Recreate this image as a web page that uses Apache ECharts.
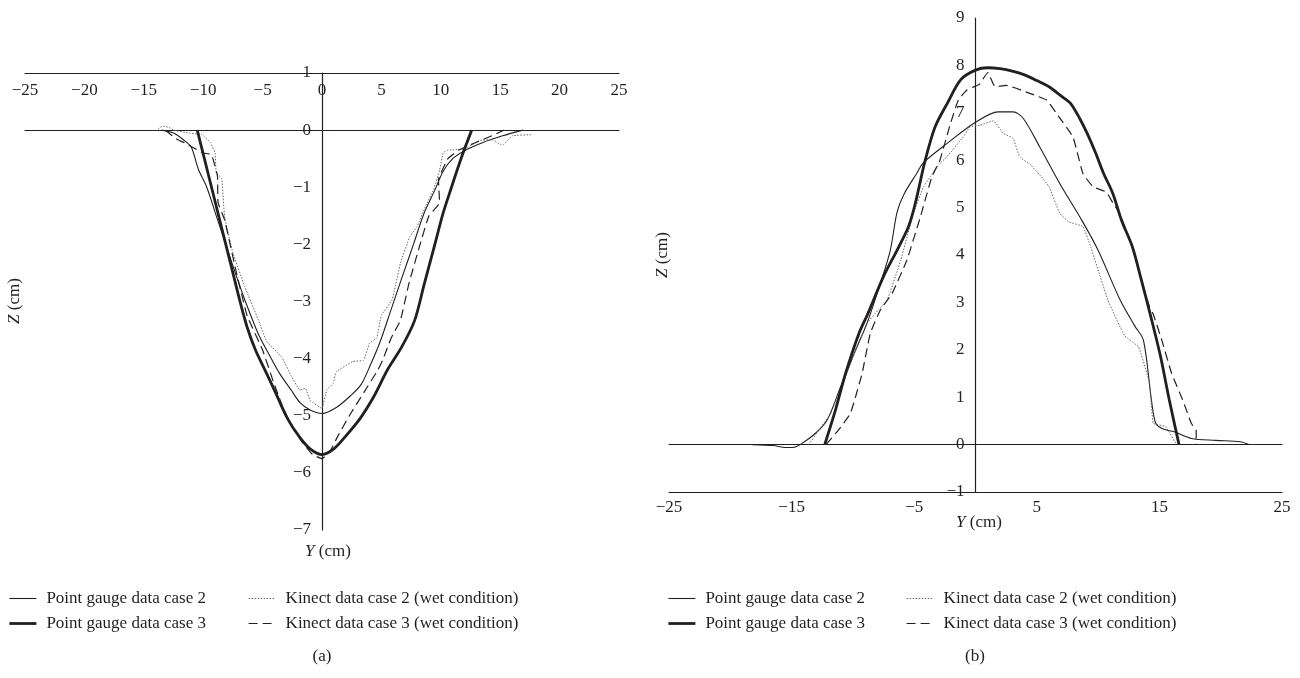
<!DOCTYPE html>
<html>
<head>
<meta charset="utf-8">
<script src="https://cdn.jsdelivr.net/npm/echarts@6/dist/echarts.min.js"></script>
<style>
  html, body { margin: 0; background: #fff; }
  #chart { width: 1300px; height: 678px; }
</style>
</head>
<body>
<div id="chart"></div>
<script>
// 横轴/纵轴刻度
const aHorizTicks = [-25, -20, -15, -10, -5, 0, 5, 10, 15, 20, 25];
const aVertTicks = [1, 0, -1, -2, -3, -4, -5, -6, -7];
const bHorizTicks = [-25, -15, -5, 5, 15, 25];
const bVertTicks = [-1, 0, 1, 2, 3, 4, 5, 6, 7, 8, 9];

const seriesNames = [
  "Point gauge data case 2",
  "Point gauge data case 3",
  "Kinect data case 2 (wet condition)",
  "Kinect data case 3 (wet condition)"
];

// (a) [Y, Z]
const aGauge2 = [[-13.5, 0], [-12.5, -0.05], [-11.6, -0.18], [-11.0, -0.3], [-10.4, -0.69], [-9.7, -1.0],
  [-8.9, -1.5], [-8.1, -2.0], [-7.3, -2.5], [-6.5, -2.97], [-5.4, -3.55], [-4.4, -3.95], [-3.6, -4.25],
  [-2.6, -4.55], [-1.85, -4.77], [-1.0, -4.9], [0, -4.96], [1.24, -4.85], [2.4, -4.65], [3.3, -4.45],
  [4.1, -4.1], [4.9, -3.7], [5.8, -3.15], [6.7, -2.6], [7.7, -2.0], [8.6, -1.45], [9.5, -1.05],
  [10.2, -0.72], [11.0, -0.5], [12.0, -0.36], [13.5, -0.22], [15.2, -0.1], [16.9, 0]];
const aGauge3 = [[-10.5, 0], [-9.9, -0.5], [-9.3, -1.0], [-8.7, -1.5], [-8.1, -2.0], [-7.5, -2.5],
  [-6.9, -3.0], [-6.3, -3.45], [-5.6, -3.85], [-4.8, -4.2], [-3.9, -4.6], [-2.9, -5.05], [-1.9, -5.37],
  [-1.0, -5.58], [0, -5.68], [1.0, -5.58], [1.9, -5.38], [3.2, -5.05], [4.4, -4.65], [5.5, -4.2],
  [6.7, -3.8], [7.8, -3.33], [8.6, -2.7], [9.5, -2.0], [10.2, -1.45], [10.9, -1.0], [11.7, -0.5], [12.6, 0]];
const aKinect2 = [[-13.8, 0.02], [-13.4, 0.07], [-12.9, 0.05], [-12.5, 0], [-11.2, -0.05], [-10.1, -0.08],
  [-9.4, -0.22], [-9.0, -0.4], [-8.9, -0.75], [-8.45, -0.84], [-8.2, -1.51], [-7.5, -2.15], [-6.5, -2.74],
  [-5.4, -3.3], [-4.65, -3.7], [-3.4, -3.97], [-2.6, -4.3], [-1.85, -4.55], [-1.4, -4.52], [-1.0, -4.73],
  [-0.2, -4.85], [0, -4.87], [0.4, -4.55], [0.95, -4.43], [1.2, -4.23], [2.6, -4.05], [3.5, -4.03],
  [4.0, -3.73], [4.6, -3.64], [5.0, -3.24], [5.9, -2.97], [6.6, -2.33], [7.4, -1.86], [8.0, -1.69],
  [8.7, -1.34], [9.4, -1.04], [9.9, -0.7], [10.2, -0.4], [10.6, -0.35], [12.0, -0.33], [13.3, -0.18],
  [14.4, -0.17], [15.0, -0.25], [15.3, -0.25], [16.0, -0.1], [17.6, -0.08]];
const aKinect3 = [[-13.2, 0], [-12.3, -0.15], [-11.5, -0.23], [-10.0, -0.4], [-9.3, -0.43], [-8.8, -0.8],
  [-8.75, -1.27], [-8.2, -1.57], [-7.2, -2.5], [-6.3, -3.25], [-5.0, -3.85], [-4.1, -4.4], [-3.3, -4.85],
  [-2.5, -5.2], [-1.6, -5.48], [-0.8, -5.68], [0, -5.75], [0.6, -5.65], [1.3, -5.37], [2.3, -5.0],
  [3.5, -4.6], [4.7, -4.2], [5.1, -4.03], [5.8, -3.65], [6.6, -3.33], [7.3, -2.7], [8.2, -2.04],
  [9.0, -1.5], [9.9, -1.27], [9.8, -0.87], [10.6, -0.5], [11.5, -0.35], [12.9, -0.22], [14.5, -0.08], [15.3, 0]];

// (b) [Y, Z]
const bGauge2 = [[-18.2, 0], [-16.5, -0.02], [-15.5, -0.06], [-14.9, -0.06], [-14.3, 0], [-13.05, 0.24],
  [-12.1, 0.52], [-11.0, 1.22], [-9.9, 1.92], [-8.85, 2.56], [-7.76, 3.4], [-6.95, 4.1], [-6.4, 4.9],
  [-5.8, 5.3], [-4.8, 5.72], [-4.24, 5.95], [-2.34, 6.35], [0, 6.8], [1.85, 7.02], [3.07, 7.02],
  [3.9, 6.88], [5.24, 6.28], [6.87, 5.51], [8.7, 4.72], [10.0, 4.1], [11.8, 3.05], [13.0, 2.5],
  [13.7, 2.2], [14.35, 0.94], [14.7, 0.45], [15.3, 0.33], [16.2, 0.27], [17.6, 0.13], [19.6, 0.09],
  [21.6, 0.06], [22.3, 0]];
const bGauge3 = [[-12.3, 0], [-11.4, 0.75], [-10.6, 1.5], [-9.5, 2.35], [-8.8, 2.75], [-7.5, 3.55],
  [-6.4, 4.1], [-5.46, 4.6], [-4.9, 5.1], [-4.1, 6.0], [-3.3, 6.7], [-2.3, 7.2], [-1.2, 7.7], [0, 7.9],
  [1, 7.95], [2, 7.93], [3, 7.88], [4, 7.8], [5, 7.68], [6, 7.55], [7, 7.35], [7.75, 7.2], [8.5, 6.88],
  [9.1, 6.57], [9.8, 6.15], [10.45, 5.72], [11.2, 5.3], [11.9, 4.74], [12.8, 4.17], [13.5, 3.5],
  [14.3, 2.7], [15.1, 1.85], [15.8, 0.95], [16.6, 0]];
const bKinect2 = [[-13.6, 0], [-12.8, 0.3], [-11.8, 0.66], [-10.5, 1.5], [-9.6, 2.1], [-8.85, 2.56],
  [-7.9, 2.85], [-7.2, 3.05], [-6.1, 3.89], [-5.06, 4.88], [-4.24, 5.44], [-3.7, 5.65], [-2.9, 5.93],
  [-2.34, 6.07], [-1.0, 6.49], [-0.45, 6.7], [0.37, 6.74], [1.45, 6.83], [2.26, 6.57], [3.07, 6.46],
  [3.6, 6.07], [4.5, 5.9], [5.2, 5.7], [6.0, 5.44], [6.87, 4.88], [7.6, 4.7], [8.76, 4.6], [9.4, 4.17],
  [10.8, 3.05], [12.15, 2.3], [13.3, 2.06], [14.2, 1.29], [14.5, 0.45], [15.5, 0.38], [16.4, 0]];
const bKinect3 = [[-12.2, 0], [-11.2, 0.3], [-10.2, 0.66], [-9.25, 1.5], [-8.58, 2.35], [-7.76, 2.84],
  [-6.8, 3.19], [-5.6, 3.89], [-4.5, 4.8], [-3.56, 5.65], [-2.9, 6.0], [-2.07, 6.75], [-1.4, 7.27],
  [-0.7, 7.48], [0.3, 7.6], [1.0, 7.85], [1.6, 7.55], [2.5, 7.58], [4.43, 7.41], [5.8, 7.27], [6.6, 6.99],
  [7.95, 6.49], [8.76, 5.72], [9.58, 5.44], [10.67, 5.33], [11.2, 5.1], [11.75, 4.88], [12.8, 4.17],
  [13.5, 3.5], [14.2, 2.9], [14.5, 2.75], [15.2, 2.2], [16.0, 1.5], [16.9, 0.94], [17.6, 0.45],
  [18.0, 0.3], [18.0, 0]];

const ink = "#231f20";
const serif = "'Liberation Serif', 'DejaVu Serif', serif";
const fontSize = 17;

// 两个子图的网格
const gridA = { left: 25, top: 73, width: 594, height: 457 };
const gridB = { left: 669, top: 18, width: 613, height: 474 };

// 四条线的样式
const lineStyles = [
  { color: ink, width: 1.1, type: "solid" },
  { color: ink, width: 2.8, type: "solid" },
  { color: "#666", width: 1, type: [1.5, 1.5] },
  { color: ink, width: 1.2, type: [9, 5] }
];

const minus = v => (v < 0 ? "\u2212" + Math.abs(v) : String(v));
const tickFormatter = list => v => (list.includes(v) ? minus(v) : "");

const axisLineStyle = { color: ink, width: 1.2 };
const labelStyle = { color: ink, fontFamily: serif, fontSize: fontSize };

function horizAxis(gridIndex, ticks, position, margin, inside) {
  return {
    gridIndex: gridIndex,
    type: "value",
    min: -25,
    max: 25,
    interval: 5,
    position: position,
    axisLine: { onZero: false, lineStyle: axisLineStyle },
    axisTick: { show: false },
    splitLine: { show: false },
    axisLabel: Object.assign({ inside: inside, margin: margin, formatter: tickFormatter(ticks) }, labelStyle)
  };
}
// Z=0 的水平线
function zeroLine(gridIndex, position) {
  return {
    gridIndex: gridIndex,
    type: "value",
    min: -25,
    max: 25,
    position: position,
    axisLine: { onZero: true, lineStyle: axisLineStyle },
    axisTick: { show: false },
    axisLabel: { show: false },
    splitLine: { show: false }
  };
}
// 竖轴放在 Y=0 处（用 offset 移到网格中间）
function vertAxis(gridIndex, ticks, grid) {
  return {
    gridIndex: gridIndex,
    type: "value",
    min: Math.min(...ticks),
    max: Math.max(...ticks),
    interval: 1,
    position: "left",
    offset: -grid.width / 2,
    axisLine: { onZero: false, lineStyle: axisLineStyle },
    axisTick: { show: false },
    splitLine: { show: false },
    axisLabel: Object.assign({ margin: 11, formatter: tickFormatter(ticks) }, labelStyle)
  };
}

function makeSeries(data, idx, xAxisIndex, yAxisIndex) {
  return {
    name: seriesNames[idx],
    type: "line",
    xAxisIndex: xAxisIndex,
    yAxisIndex: yAxisIndex,
    data: data,
    symbol: "none",
    smooth: idx < 2 ? 0.3 : 0.1,
    itemStyle: { color: ink },
    lineStyle: lineStyles[idx],
    z: idx === 1 ? 4 : 3
  };
}

function legendColumn(left, top, idxs) {
  return {
    orient: "vertical",
    left: left,
    top: top,
    padding: 0,
    itemWidth: 27,
    itemHeight: 14,
    itemGap: 8,
    selectedMode: false,
    textStyle: Object.assign({ padding: [0, 0, 0, 5] }, labelStyle),
    data: idxs.map(i => ({ name: seriesNames[i], lineStyle: lineStyles[i], itemStyle: { opacity: 0 } }))
  };
}

function caption(x, y, text, rotation) {
  return {
    type: "text",
    x: x,
    y: y,
    rotation: rotation || 0,
    style: {
      text: text,
      align: "center",
      verticalAlign: "middle",
      fill: ink,
      font: fontSize + "px " + serif,
      rich: { i: { fontStyle: "italic", fontFamily: serif, fontSize: fontSize, fill: ink } }
    }
  };
}

const chart = echarts.init(document.getElementById("chart"));
chart.setOption({
  animation: false,
  backgroundColor: "#fff",
  grid: [
    Object.assign({ outerBoundsMode: "none", containLabel: false }, gridA),
    Object.assign({ outerBoundsMode: "none", containLabel: false }, gridB)
  ],
  xAxis: [
    horizAxis(0, aHorizTicks, "top", 9, true),
    zeroLine(0, "bottom"),
    horizAxis(1, bHorizTicks, "bottom", 7, false),
    zeroLine(1, "top")
  ],
  yAxis: [vertAxis(0, aVertTicks, gridA), vertAxis(1, bVertTicks, gridB)],
  legend: [
    legendColumn(8, 590, [0, 1]),
    legendColumn(248, 590, [2, 3]),
    legendColumn(667, 590, [0, 1]),
    legendColumn(906, 590, [2, 3])
  ],
  graphic: [
    caption(15, 301, "{i|Z} (cm)", Math.PI / 2),
    caption(663, 255, "{i|Z} (cm)", Math.PI / 2),
    caption(328, 552, "{i|Y} (cm)"),
    caption(979, 523, "{i|Y} (cm)"),
    caption(322, 657, "(a)"),
    caption(975, 657, "(b)")
  ],
  series: [
    makeSeries(aGauge2, 0, 0, 0),
    makeSeries(aGauge3, 1, 0, 0),
    makeSeries(aKinect2, 2, 0, 0),
    makeSeries(aKinect3, 3, 0, 0),
    makeSeries(bGauge2, 0, 2, 1),
    makeSeries(bGauge3, 1, 2, 1),
    makeSeries(bKinect2, 2, 2, 1),
    makeSeries(bKinect3, 3, 2, 1)
  ]
});
</script>
</body>
</html>
